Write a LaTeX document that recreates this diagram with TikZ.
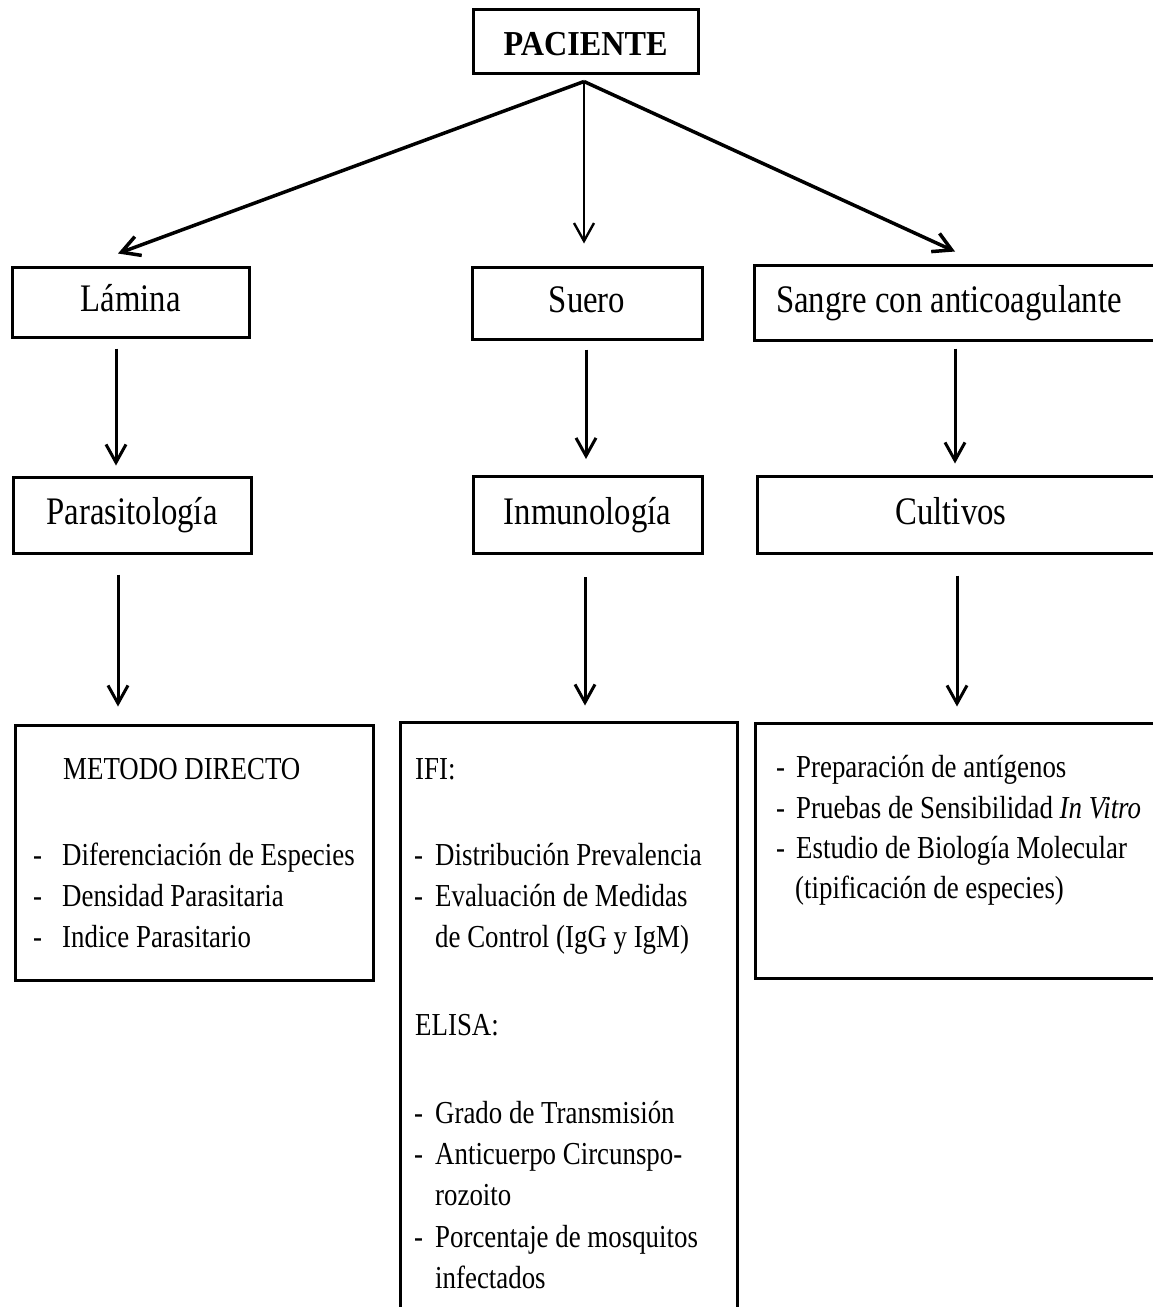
\documentclass[tikz,border=0pt]{standalone}
\usepackage{fontspec}
\setmainfont{Liberation Serif}[FakeStretch=0.84]
\newfontfamily\pacfont{Liberation Serif Bold}[FakeStretch=0.92]
\usetikzlibrary{arrows.meta}
\begin{document}
\begin{tikzpicture}[x=1pt,y=-1pt,
  box/.style={draw, line width=3pt, inner sep=0pt, align=center},
  lbl/.style={font=\fontsize{39}{47}\selectfont, text height=26pt, text depth=7pt},
  ln/.style={anchor=base west, inner sep=0pt, font=\fontsize{32}{41}\selectfont},
  arr/.style={-{Straight Barb[length=18pt,width=20pt]}, line width=3pt}]
\useasboundingbox[fill=white] (0,0) rectangle (1152,1307);
% boxes
\node[box, minimum width=225pt, minimum height=64pt, font=\pacfont\fontsize{35}{42}\selectfont, text height=30pt, text depth=2pt] (pac) at (585.5,41) {PACIENTE};
\node[box, lbl, minimum width=237pt, minimum height=70pt] (lam) at (130.5,302) {Lámina};
\node[box, lbl, minimum width=230pt, minimum height=72pt] (sue) at (587,303) {Suero};
\node[box, lbl, minimum width=406pt, minimum height=75pt] (san) at (957,302.5) {\hspace*{-16pt}Sangre con anticoagulante};
\node[box, lbl, minimum width=238pt, minimum height=76pt] (par) at (132,515) {Parasitología};
\node[box, lbl, minimum width=229pt, minimum height=77pt] (inm) at (587.5,515) {Inmunología};
\node[box, lbl, minimum width=403pt, minimum height=77pt] (cul) at (958.5,514.5) {\hspace*{-15pt}Cultivos};
\node[box, minimum width=358pt, minimum height=255pt] (bl) at (194,852.5) {};
\node[box, minimum width=337pt, minimum height=598pt] (bm) at (568.5,1021) {};
\node[box, minimum width=405pt, minimum height=255pt] (br) at (957.5,850.5) {};
% left box text
\node[ln] (l0) at (63,779) {METODO DIRECTO};
\node[ln] (l1) at (33,865) {\makebox[29pt][l]{-}Diferenciación de Especies};
\node[ln] (l2) at (33,906) {\makebox[29pt][l]{-}Densidad Parasitaria};
\node[ln] (l3) at (33,947) {\makebox[29pt][l]{-}Indice Parasitario};
% middle box text
\node[ln] (m0) at (415,779) {IFI:};
\node[ln] (m1) at (414,865) {\makebox[21pt][l]{-}Distribución Prevalencia};
\node[ln] (m2) at (414,906) {\makebox[21pt][l]{-}Evaluación de Medidas};
\node[ln] (m3) at (435,947) {de Control (IgG y IgM)};
\node[ln] (m4) at (415,1035) {ELISA:};
\node[ln] (m5) at (414,1123) {\makebox[21pt][l]{-}Grado de Transmisión};
\node[ln] (m6) at (414,1164) {\makebox[21pt][l]{-}Anticuerpo Circunspo-};
\node[ln] (m7) at (435,1205) {rozoito};
\node[ln] (m8) at (414,1247) {\makebox[21pt][l]{-}Porcentaje de mosquitos};
\node[ln] (m9) at (435,1288) {infectados};
% right box text
\node[ln] (r1) at (776,777) {\makebox[20pt][l]{-}Preparación de antígenos};
\node[ln] (r2) at (776,818) {\makebox[20pt][l]{-}Pruebas de Sensibilidad \textit{In Vitro}};
\node[ln] (r3) at (776,858) {\makebox[20pt][l]{-}Estudio de Biología Molecular};
\node[ln] (r4) at (795,898) {(tipificación de especies)};
% arrows row 1
\draw[arr, line width=3.5pt] ([xshift=-1.5pt,yshift=-7pt]pac.south) -- ([xshift=-12.5pt,yshift=12pt]lam.north);
\draw[arr, line width=2.4pt] ([xshift=-1.5pt,yshift=-7pt]pac.south) -- ([xshift=-3pt,yshift=22pt]sue.north);
\draw[arr, line width=3.5pt] ([xshift=-1.5pt,yshift=-7pt]pac.south) -- ([xshift=-2pt,yshift=12pt]san.north);
% arrows row 2
\draw[arr] ([xshift=-14.5pt,yshift=-10pt]lam.south) -- ([xshift=-16pt,yshift=10pt]par.north);
\draw[arr] ([xshift=-1pt,yshift=-9pt]sue.south) -- ([xshift=-1.5pt,yshift=16pt]inm.north);
\draw[arr] ([xshift=-2pt,yshift=-7pt]san.south) -- ([xshift=-3.5pt,yshift=11pt]cul.north);
% arrows row 3
\draw[arr] ([xshift=-14pt,yshift=-20pt]par.south) -- ([xshift=-76pt,yshift=17pt]bl.north);
\draw[arr] ([xshift=-2.5pt,yshift=-22pt]inm.south) -- ([xshift=16.5pt,yshift=15pt]bm.north);
\draw[arr] ([xshift=-1.5pt,yshift=-21pt]cul.south) -- ([xshift=-0.5pt,yshift=15pt]br.north);
\end{tikzpicture}
\end{document}
